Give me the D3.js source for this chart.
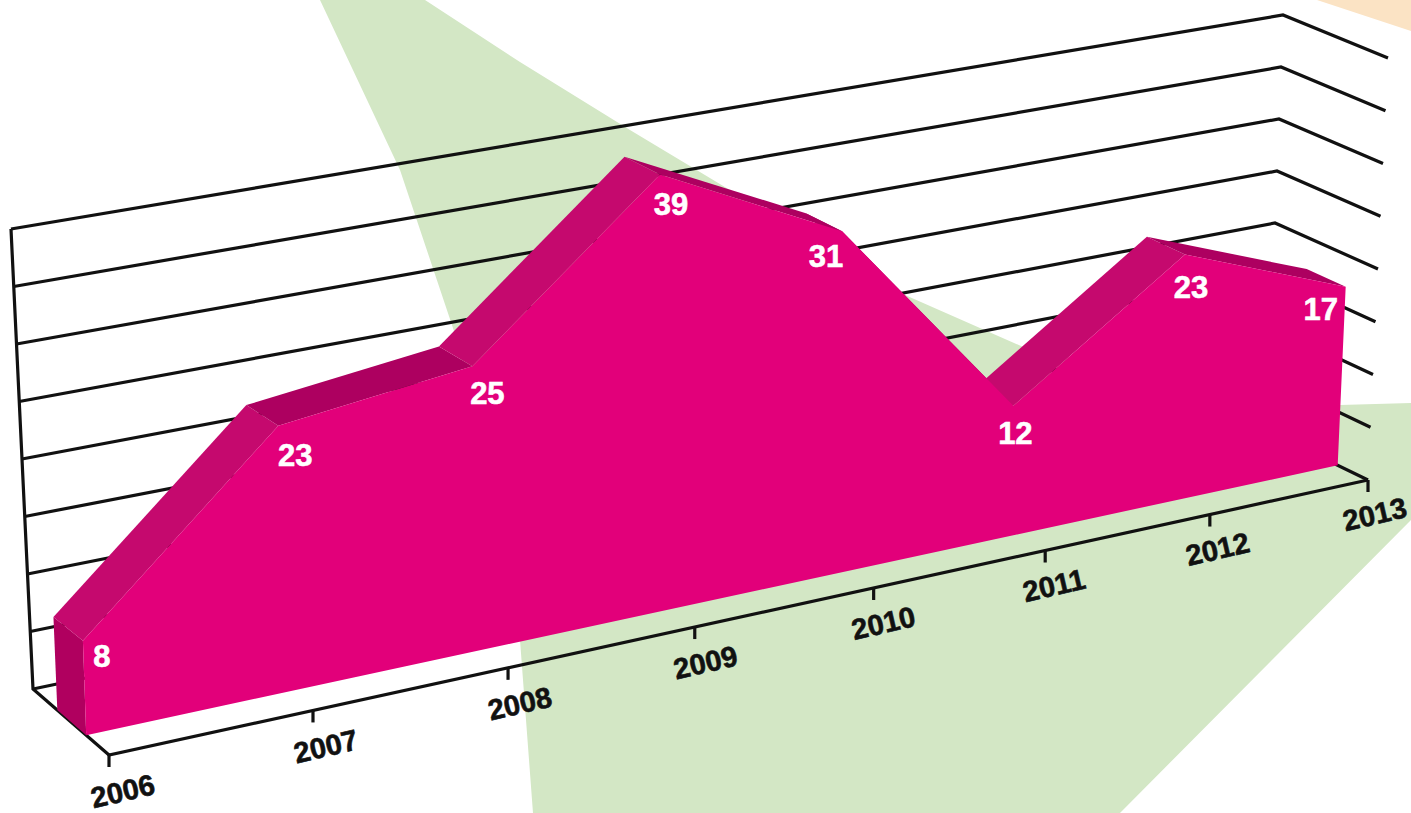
<!DOCTYPE html>
<html>
<head>
<meta charset="utf-8">
<script src="https://cdn.jsdelivr.net/npm/d3@7/dist/d3.min.js"></script>
<style>
html,body{margin:0;padding:0;background:#fff;overflow:hidden}
svg{display:block}
text{font-family:"Liberation Sans",Arial,sans-serif;font-weight:700}
</style>
</head>
<body>
<svg id="chart" width="1411" height="813"></svg>
<script>
const years = [2006, 2007, 2008, 2009, 2010, 2011, 2012, 2013];
const values = [8, 23, 25, 39, 31, 12, 23, 17];
const gridValues = [0, 5, 10, 15, 20, 25, 30, 35, 40];

// pixel offsets of the value labels from their point on the front face
const labelDx = [19, 17, 15, 11, -16, 2, 6, -25];
const labelDy = [15, 29, 27, 30, 25, 27, 32, 22];

// decorative backdrop
const greenShape = [[320,0],[425,0],[520,62],[630,130],[905,295],[1030,350],[1340,405],[1411,403],[1411,520],[1120,813],[533,813],[520,640],[457,340],[400,170],[360,85]];
const orangeShape = [[1317,0],[1411,0],[1411,31]];

// corners of the projected chart box: [left/right][bottom/top][back/front]
const box = {
  lbb:[33,689], ltb:[11,229], rbb:[1267,431], rtb:[1283,15],
  lbf:[109,755], ltf:[95,278], rbf:[1368,480], rtf:[1388,58]
};
const zBack = 0.32, zFront = 0.70;
const persp = 0.885, axisPersp = 0.862;

const tScale = d3.scaleLinear().domain([2006, 2013]).range([0, 1]);
const vScale = d3.scaleLinear().domain([0, 40]).range([0, 1]);
const lerp = (a, b, k) => [a[0] + (b[0] - a[0]) * k, a[1] + (b[1] - a[1]) * k];

function project(year, value, z) {
  const t = tScale(year);
  const w = z === 1 ? axisPersp : persp;
  const u = t / (t + w * (1 - t));
  const v = vScale(value);
  const lb = lerp(box.lbb, box.lbf, z), lt = lerp(box.ltb, box.ltf, z);
  const rb = lerp(box.rbb, box.rbf, z), rt = lerp(box.rtb, box.rtf, z);
  return lerp(lerp(lb, rb, u), lerp(lt, rt, u), v);
}

const svg = d3.select("#chart");
const line = d3.line();
const closed = pts => line(pts) + "Z";

// backdrop
svg.append("path").attr("d", closed(greenShape)).attr("fill", "#d3e7c5");
svg.append("path").attr("d", closed(orangeShape)).attr("fill", "#fbe3c4");

const Y0 = years[0], Y1 = years[years.length - 1];
const lineStyle = sel => sel.attr("fill", "none").attr("stroke", "#111").attr("stroke-width", 3.2).attr("stroke-linejoin", "miter");

// gridlines: back wall + right wall
svg.append("g").selectAll("path").data(gridValues).join("path")
  .attr("d", g => line([project(Y0, g, 0), project(Y1, g, 0), project(Y1, g, 1)]))
  .call(lineStyle);

// left axis edge and floor edges
svg.append("path").attr("d", line([project(Y0, 40, 0), project(Y0, 0, 0), project(Y0, 0, 1), project(Y1, 0, 1)])).call(lineStyle);

// ticks
svg.append("g").selectAll("path").data(years).join("path")
  .attr("d", y => { const p = project(y, 0, 1); return line([p, [p[0], p[1] + 12]]); })
  .call(lineStyle);

// area solid: top faces back to front
const faceColor = (a, b) => (b - a) > 5 ? "#c5096e" : "#ad0060";
const solid = svg.append("g");

// left end face
solid.append("path")
  .attr("d", closed([project(Y0, 0, zBack), project(Y0, values[0], zBack), project(Y0, values[0], zFront), project(Y0, 0, zFront)]))
  .attr("fill", "#b0005f");

// top faces
const segs = d3.pairs(years.map((y, i) => ({y, v: values[i]})));
solid.selectAll("path.top").data(segs).join("path").attr("class", "top")
  .attr("d", ([a, b]) => closed([project(a.y, a.v, zBack), project(b.y, b.v, zBack), project(b.y, b.v, zFront), project(a.y, a.v, zFront)]))
  .attr("fill", ([a, b]) => faceColor(a.v, b.v));

// front face
const frontPts = [project(Y0, 0, zFront)]
  .concat(years.map((y, i) => project(y, values[i], zFront)))
  .concat([project(Y1, 0, zFront)]);
solid.append("path").attr("d", closed(frontPts)).attr("fill", "#e2007a");

// year labels
svg.append("g").selectAll("text").data(years).join("text")
  .text(d => d)
  .attr("text-anchor", "middle")
  .attr("font-size", 29)
  .attr("fill", "#111")
  .attr("stroke", "#111").attr("stroke-width", 0.6)
  .attr("transform", y => {
    const p = project(y, 0, 1), k = tScale(y);
    return `translate(${p[0] + 16 - 7 * k},${p[1] + 46 - 2 * k}) rotate(-13)`;
  });

// value labels
svg.append("g").selectAll("text").data(values).join("text")
  .text(d => d)
  .attr("text-anchor", "middle")
  .attr("font-size", 31)
  .attr("fill", "#fff")
  .attr("stroke", "#fff").attr("stroke-width", 0.6)
  .attr("x", (d, i) => project(years[i], d, zFront)[0] + labelDx[i])
  .attr("y", (d, i) => project(years[i], d, zFront)[1] + labelDy[i] + 11);
</script>
</body>
</html>
